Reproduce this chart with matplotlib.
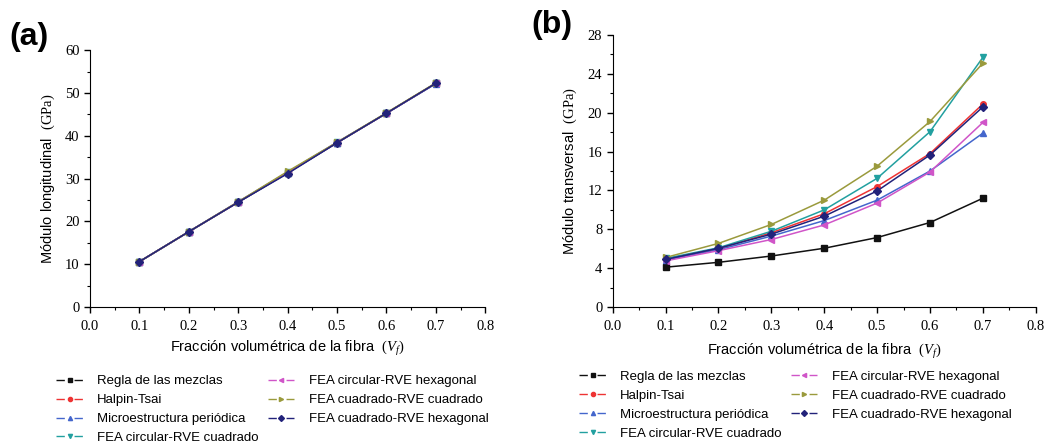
import numpy as np
import matplotlib.pyplot as plt
from matplotlib.ticker import MultipleLocator

plt.rcParams['mathtext.fontset'] = 'custom'
plt.rcParams['mathtext.rm'] = 'Liberation Serif'
plt.rcParams['mathtext.it'] = 'Liberation Serif:italic'

vf = [0.1, 0.2, 0.3, 0.4, 0.5, 0.6, 0.7]

names = ['Regla de las mezclas', 'Halpin-Tsai', 'Microestructura periódica',
         'FEA circular-RVE cuadrado', 'FEA circular-RVE hexagonal',
         'FEA cuadrado-RVE cuadrado', 'FEA cuadrado-RVE hexagonal']
colors = ['#111111', '#ee3333', '#4466cc', '#22a0a0', '#d055c8', '#9a9a3c', '#22227a']
markers = ['s', 'o', '^', 'v', '<', '>', 'D']

# (a) longitudinal modulus, GPa
long_regla = [10.6, 17.6, 24.5, 31.4, 38.4, 45.3, 52.3]
long_halpin = [10.6, 17.6, 24.5, 31.4, 38.4, 45.3, 52.3]
long_micro = [10.6, 17.6, 24.5, 31.3, 38.4, 45.3, 52.2]
long_circ_cuad = [10.6, 17.6, 24.6, 31.5, 38.5, 45.3, 52.3]
long_circ_hex = [10.6, 17.6, 24.6, 31.5, 38.5, 45.3, 52.3]
long_cuad_cuad = [10.6, 17.6, 24.6, 31.7, 38.5, 45.4, 52.4]
long_cuad_hex = [10.6, 17.6, 24.5, 31.2, 38.4, 45.3, 52.3]

# (b) transverse modulus, GPa
tr_regla = [4.1, 4.6, 5.25, 6.05, 7.15, 8.7, 11.2]
tr_halpin = [4.9, 6.0, 7.65, 9.6, 12.4, 15.8, 20.9]
tr_micro = [4.85, 5.9, 7.3, 8.9, 11.0, 14.0, 17.9]
tr_circ_cuad = [5.0, 6.1, 7.8, 10.0, 13.25, 18.05, 25.7]
tr_circ_hex = [4.75, 5.8, 6.95, 8.45, 10.7, 13.9, 19.0]
tr_cuad_cuad = [5.1, 6.55, 8.5, 11.0, 14.5, 19.1, 25.1]
tr_cuad_hex = [4.9, 6.05, 7.5, 9.35, 11.95, 15.65, 20.6]

long_series = [long_regla, long_halpin, long_micro, long_circ_cuad,
               long_circ_hex, long_cuad_cuad, long_cuad_hex]
tr_series = [tr_regla, tr_halpin, tr_micro, tr_circ_cuad,
             tr_circ_hex, tr_cuad_cuad, tr_cuad_hex]

fig = plt.figure(figsize=(10.46, 4.48), dpi=100)
ax1 = fig.add_axes([0.086, 0.3147, 0.378, 0.573])
ax2 = fig.add_axes([0.5858, 0.3147, 0.4044, 0.6071])


def style_axes(ax, ymax, ystep, ylabel, xpad):
    ax.set_xlim(0, 0.8)
    ax.set_ylim(0, ymax)
    ax.xaxis.set_major_locator(MultipleLocator(0.1))
    ax.xaxis.set_minor_locator(MultipleLocator(0.05))
    ax.yaxis.set_major_locator(MultipleLocator(ystep))
    ax.yaxis.set_minor_locator(MultipleLocator(ystep / 2))
    ax.spines['top'].set_visible(False)
    ax.spines['right'].set_visible(False)
    ax.tick_params(which='major', direction='out', length=4, width=1,
                   labelsize=10.5)
    ax.tick_params(axis='x', which='major', pad=5)
    ax.tick_params(which='minor', direction='out', length=2.5, width=0.8)
    for lab in ax.get_yticklabels():
        lab.set_family('Liberation Serif')
    ax.set_xticks(np.arange(0, 0.81, 0.1))
    ax.set_xticklabels(['%.1f' % t for t in np.arange(0, 0.81, 0.1)],
                       family='Liberation Serif', fontsize=10.5)
    ax.set_xlabel(r'Fracción volumétrica de la fibra  $(V_f)$',
                  family='Liberation Sans', fontsize=10.5, labelpad=xpad)
    ax.set_ylabel(ylabel, family='Liberation Sans', fontsize=10.5, labelpad=6)


for s, name, c, m in zip(long_series, names, colors, markers):
    ax1.plot(vf, s, color=c, lw=1.1, marker=m, ms=4, mfc=c, mec=c, label=name)
for s, name, c, m in zip(tr_series, names, colors, markers):
    ax2.plot(vf, s, color=c, lw=1.1, marker=m, ms=4, mfc=c, mec=c, label=name)

style_axes(ax1, 60, 10, r'Módulo longitudinal  $\mathrm{(GPa)}$', 5)
style_axes(ax2, 28, 4, r'Módulo transversal  $\mathrm{(GPa)}$', 7)

# legends below each panel
for ax, x0, y0 in [(ax1, 0.045, 0.183), (ax2, 0.545, 0.193)]:
    handles = [plt.Line2D([], [], color=c, lw=1.0, ls=(0, (6, 7)),
                          marker=m, ms=3, mfc=c, mec=c)
               for c, m in zip(colors, markers)]
    ax.legend(handles, names, loc='upper left', bbox_to_anchor=(x0, y0),
              bbox_transform=fig.transFigure, ncol=2, frameon=False,
              prop={'family': 'Liberation Sans', 'size': 9.5},
              handlelength=2.0, handletextpad=1.1, columnspacing=0.7,
              labelspacing=0.5, borderaxespad=0.3)

fig.text(0.009, 0.95, '(a)', fontsize=23, fontweight='bold',
         family='Liberation Sans', va='top')
fig.text(0.508, 0.978, '(b)', fontsize=23, fontweight='bold',
         family='Liberation Sans', va='top')

fig.savefig('out.png', dpi=100)
